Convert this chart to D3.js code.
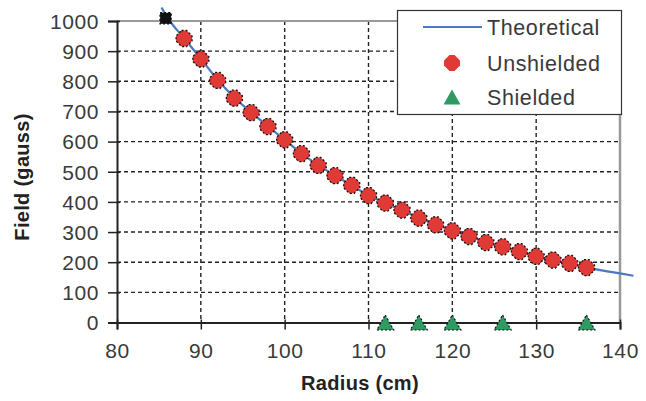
<!DOCTYPE html>
<html><head><meta charset="utf-8">
<script src="https://cdn.jsdelivr.net/npm/d3@7"></script>
<style>html,body{margin:0;padding:0;background:#fff;}svg{display:block;font-family:"Liberation Sans",Arial,sans-serif;}</style>
</head><body>
<script>
const xTicks = [80, 90, 100, 110, 120, 130, 140];
const yTicks = [0, 100, 200, 300, 400, 500, 600, 700, 800, 900, 1000];
const theoryRadius = [85.3, 86, 88, 90, 92, 94, 96, 98, 100, 102, 104, 106, 108, 110, 112, 114, 116, 118, 120, 122, 124, 126, 128, 130, 132, 134, 136, 138, 140, 141.6];
const theoryField  = [1045, 1012, 943, 875, 805, 746, 697, 651, 606, 561, 522, 488, 455, 422, 396, 372, 347, 325, 305, 286, 266, 251, 235, 220, 207, 195, 183, 172, 163, 155];
const unshieldedRadius = [88, 90, 92, 94, 96, 98, 100, 102, 104, 106, 108, 110, 112, 114, 116, 118, 120, 122, 124, 126, 128, 130, 132, 134, 136];
const unshieldedField  = [942, 874, 803, 744, 696, 650, 606, 560, 521, 487, 455, 421, 396, 373, 346, 324, 304, 285, 265, 251, 235, 219, 207, 196, 182];
const refRadius = [85.8];
const refField = [1009];
const shieldedRadius = [112, 116, 120, 126, 136];
const shieldedField  = [0, 0, 0, 0, 0];
const legendLabels = ["Theoretical", "Unshielded", "Shielded"];

const W = 646, H = 401;
const L = 117, R = 620, T = 21, B = 322.5;
const svg = d3.select("body").append("svg").attr("width", W).attr("height", H);
const x = d3.scaleLinear().domain([80, 140]).range([L, R]);
const y = d3.scaleLinear().domain([0, 1000]).range([B, T]);

const RED = "#e03a36", GREEN = "#2f9a62", BLUE = "#4a78c2";
const TXT = "#3a3a3a";

// grid
const grid = svg.append("g").attr("stroke", "#222").attr("stroke-width", 1.4).attr("stroke-dasharray", "4,3");
grid.selectAll("line.v").data(xTicks.filter(d => d > 80 && d < 140)).join("line")
  .attr("x1", d => x(d)).attr("x2", d => x(d)).attr("y1", T).attr("y2", B);
grid.selectAll("line.h").data(yTicks.filter(d => d > 0 && d < 1000)).join("line")
  .attr("x1", L).attr("x2", R).attr("y1", d => y(d)).attr("y2", d => y(d));

// top/right border
svg.append("line").attr("x1", L).attr("x2", R).attr("y1", T).attr("y2", T).attr("stroke", "#999").attr("stroke-width", 2);
svg.append("line").attr("x1", R).attr("x2", R).attr("y1", T).attr("y2", B).attr("stroke", "#999").attr("stroke-width", 2.5);

// axes
const yAxis = d3.axisLeft(y).tickValues(yTicks).tickSize(9).tickPadding(9).tickFormat(d3.format("d"));
const gy = svg.append("g").attr("transform", `translate(${L},0)`).call(yAxis);
const xAxis = d3.axisBottom(x).tickValues(xTicks).tickSize(7).tickPadding(14);
const gx = svg.append("g").attr("transform", `translate(0,${B})`).call(xAxis);
[gx, gy].forEach(g => {
  g.select(".domain").attr("stroke", "#222").attr("stroke-width", 2);
  g.selectAll(".tick line").attr("stroke", "#222").attr("stroke-width", 1.5);
  g.selectAll(".tick text").attr("fill", TXT).attr("font-size", 21).attr("letter-spacing", 0.6)
    .attr("font-family", "Liberation Sans, Arial, sans-serif");
});
gy.selectAll(".tick").append("line").attr("x1", 0).attr("x2", 3).attr("stroke", "#222").attr("stroke-width", 1.5);
gx.selectAll(".tick").append("line").attr("y1", 0).attr("y2", -3).attr("stroke", "#222").attr("stroke-width", 1.5);
gy.selectAll(".tick text").attr("dy", "0.35em");

// axis titles
svg.append("text").attr("x", 360).attr("y", 390).attr("text-anchor", "middle")
  .attr("font-weight", "bold").attr("font-size", 20).attr("letter-spacing", 0.3).attr("fill", "#222").text("Radius (cm)");
svg.append("text").attr("transform", "translate(29,177) rotate(-90)").attr("text-anchor", "middle")
  .attr("font-weight", "bold").attr("font-size", 20).attr("letter-spacing", 0.3).attr("fill", "#222").text("Field (gauss)");

// theoretical line
const theory = theoryRadius.map((r, i) => [r, theoryField[i]]);
svg.append("path").datum(theory)
  .attr("d", d3.line().x(d => x(d[0])).y(d => y(d[1])).curve(d3.curveMonotoneX))
  .attr("fill", "none").attr("stroke", BLUE).attr("stroke-width", 2.2);

// marker shapes
const oct = "M-2.5,-8L2.5,-8L8,-2.5L8,2.5L2.5,8L-2.5,8L-8,2.5L-8,-2.5Z";
const tri = "M0,-7.5L8.5,7.5L-8.5,7.5Z";

svg.append("g").selectAll("path").data(refRadius.map((r, i) => [r, refField[i]])).join("path")
  .attr("transform", d => `translate(${x(d[0])},${y(d[1])})`)
  .attr("d", "M-5.5,-5.5L5.5,-5.5L5.5,5.5L-5.5,5.5Z")
  .attr("fill", "#111").attr("stroke", "#111").attr("stroke-width", 1.5).attr("stroke-dasharray", "2,2");

svg.append("g").selectAll("path").data(unshieldedRadius.map((r, i) => [r, unshieldedField[i]])).join("path")
  .attr("transform", d => `translate(${x(d[0])},${y(d[1])})`)
  .attr("d", oct).attr("fill", RED).attr("stroke", "#111").attr("stroke-width", 1.3).attr("stroke-dasharray", "2,2");

svg.append("g").selectAll("path").data(shieldedRadius.map((r, i) => [r, shieldedField[i]])).join("path")
  .attr("transform", d => `translate(${x(d[0])},${y(d[1])})`)
  .attr("d", tri).attr("fill", GREEN).attr("stroke", "#111").attr("stroke-width", 1.2).attr("stroke-dasharray", "2,2");

// legend
const lg = svg.append("g");
lg.append("rect").attr("x", 397.5).attr("y", 10.5).attr("width", 224).attr("height", 104)
  .attr("fill", "#fff").attr("stroke", "#333").attr("stroke-width", 1.2);
const rowsY = [27, 63, 97];
lg.append("line").attr("x1", 423).attr("x2", 482).attr("y1", rowsY[0]).attr("y2", rowsY[0]).attr("stroke", BLUE).attr("stroke-width", 2.2);
lg.append("path").attr("transform", `translate(452,${rowsY[1]})`).attr("d", oct).attr("fill", RED);
lg.append("path").attr("transform", `translate(452,${rowsY[2]})`).attr("d", tri).attr("fill", GREEN);
lg.selectAll("text").data(legendLabels).join("text")
  .attr("x", 487).attr("y", (d, i) => rowsY[i]).attr("dy", "0.36em")
  .attr("font-size", 21.5).attr("letter-spacing", 0.6).attr("fill", TXT).text(d => d);
</script>
</body></html>
